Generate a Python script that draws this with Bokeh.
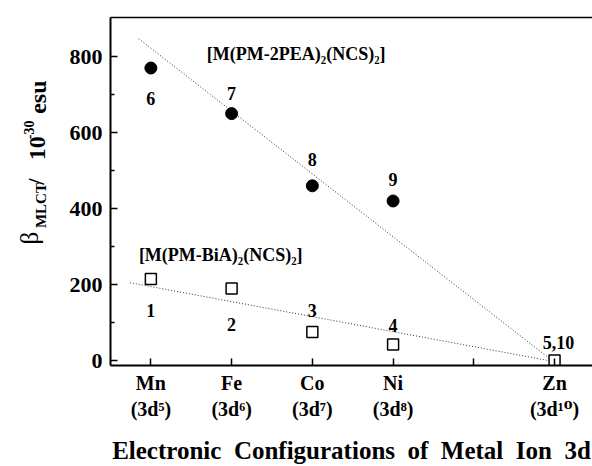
import math
from bokeh.plotting import figure
from bokeh.layouts import row
from bokeh.models import ColumnDataSource, FixedTicker, LinearAxis, Range1d
from bokeh.core.properties import value
from bokeh.embed import file_html
from bokeh.resources import INLINE

# ---- data ----
metals = ["Mn", "Fe", "Co", "Ni", "Zn"]
d_count = [5, 6, 7, 8, 10]
tick_labels = ["Mn\n(3d\u2075)", "Fe\n(3d\u2076)", "Co\n(3d\u2077)", "Ni\n(3d\u2078)", "Zn\n(3d\u00b9\u2070)"]

pea_x = [5, 6, 7, 8]
pea_beta = [770, 650, 460, 420]
pea_ids = ["6", "7", "8", "9"]

bia_x = [5, 6, 7, 8, 10]
bia_beta = [215, 190, 75, 42, 0]
bia_ids = ["1", "2", "3", "4", "5,10"]

pea_fit_x = [4.85, 10.0]
pea_fit_y = [847, -5]
bia_fit_x = [4.74, 10.0]
bia_fit_y = [205, -3]

x_title = "Electronic\u00a0 Configurations\u00a0 of\u00a0 Metal\u00a0 Ion\u00a0 3d"

FONT = "Liberation Serif"
TICK_FONT = "'Liberation Serif', 'DejaVu Serif', serif"
W, H = 592, 466
LEFT_W = 50

# ---------------- main plot ----------------
p = figure(width=W - LEFT_W, height=H, output_backend="svg", toolbar_location=None,
           x_range=Range1d(4.5, 10.47), y_range=Range1d(-13, 903),
           min_border_left=110 - LEFT_W, min_border_right=0, min_border_top=17,
           min_border_bottom=H - 365)
p.outline_line_color = None
p.grid.visible = False

p.line(pea_fit_x, pea_fit_y, line_color="#333333", line_width=1, line_dash="1 2")
p.line(bia_fit_x, bia_fit_y, line_color="#333333", line_width=1, line_dash="1 2")

pea_src = ColumnDataSource(dict(x=pea_x, y=pea_beta, t=pea_ids,
                                xo=[0, 0, 0, 0], yo=[30, -20, -26, -21]))
bia_src = ColumnDataSource(dict(x=bia_x, y=bia_beta, t=bia_ids,
                                xo=[0, 0, 0, 0, 4], yo=[32, 36, -22, -19, -18]))
p.scatter("x", "y", source=pea_src, marker="circle", size=12, color="black")
p.scatter("x", "y", source=bia_src, marker="square", size=11, fill_color="white",
          line_color="black", line_width=1.5)

for src in (pea_src, bia_src):
    p.text("x", "y", text="t", source=src, x_offset="xo", y_offset="yo",
           text_font=value(FONT), text_font_style="bold", text_font_size="18px",
           text_align="center", text_baseline="middle", text_color="black")

# compound labels (placed inside the frame)
def dx(px):
    return 5 + (px - 150) / 80.8

def dy(py):
    return (360 - py) / 0.38

p.text(x=[dx(206)], y=[dy(53)], text=["[M(PM-2PEA)\u2082(NCS)\u2082]"],
       text_font=value(FONT), text_font_style="bold", text_font_size="18px",
       text_align="left", text_baseline="alphabetic", text_color="black")
p.text(x=[dx(138)], y=[dy(254)], text=["[M(PM-BiA)\u2082(NCS)\u2082]"],
       text_font=value(FONT), text_font_style="bold", text_font_size="18px",
       text_align="left", text_baseline="alphabetic", text_color="black")

xa = p.xaxis[0]
xa.ticker = FixedTicker(ticks=[5, 6, 7, 8, 9, 10], minor_ticks=[])
xa.major_label_overrides = {5: tick_labels[0], 6: tick_labels[1], 7: tick_labels[2],
                            8: tick_labels[3], 9: "", 10: tick_labels[4]}
ya = p.yaxis[0]
ya.ticker = FixedTicker(ticks=[0, 200, 400, 600, 800], minor_ticks=[100, 300, 500, 700])
for ax in (xa, ya):
    ax.axis_line_width = 2
    ax.major_tick_in = 7
    ax.major_tick_out = 0
    ax.minor_tick_in = 4
    ax.minor_tick_out = 0
    ax.major_tick_line_width = 1.5
    ax.minor_tick_line_width = 1.5
    ax.major_label_text_font = FONT
    ax.major_label_text_font_style = "bold"
    ax.major_label_text_color = "black"
    ax.axis_line_color = "black"
    ax.major_tick_line_color = "black"
    ax.minor_tick_line_color = "black"
xa.major_label_text_font = TICK_FONT
ya.major_label_text_font_size = "22px"
ya.major_label_standoff = 8
xa.major_label_text_font_size = "20px"
xa.major_label_standoff = 6
xa.axis_label = x_title
xa.axis_label_text_font = FONT
xa.axis_label_text_font_style = "bold"
xa.axis_label_text_font_size = "25px"
xa.axis_label_text_color = "black"
xa.axis_label_standoff = 14

top = LinearAxis(ticker=FixedTicker(ticks=[]), major_tick_out=0, major_tick_in=0,
                 minor_tick_out=0, minor_tick_in=0, major_label_text_font_size="0px",
                 axis_line_width=1.5, axis_line_color="black")
p.add_layout(top, "above")

# ---------------- y-axis title strip ----------------
q = figure(width=LEFT_W, height=H, output_backend="svg", toolbar_location=None,
           x_range=Range1d(0, LEFT_W), y_range=Range1d(0, H),
           min_border_left=0, min_border_right=0, min_border_top=0, min_border_bottom=0,
           x_axis_type=None, y_axis_type=None)
q.outline_line_color = None
q.grid.visible = False

R = math.pi / 2
pieces = [
    ("\u03b2", 29, 304, "25px", "normal"),
    ("MLCT", 40, 282, "15px", "bold"),
    ("/", 36, 224, "23px", "bold"),
    ("10", 37, 191, "24px", "bold"),
    ("-30", 28, 163, "14px", "bold"),
    ("esu", 37, 129, "24px", "bold"),
]
for txt, px, py, fs, st in pieces:
    q.text(x=[px], y=[H - py], text=[txt], angle=R, text_font=value(FONT),
           text_font_style=st, text_font_size=fs, text_align="left",
           text_baseline="alphabetic", text_color="black")

layout = row(q, p)
open("out.html", "w").write(file_html(layout, INLINE))
